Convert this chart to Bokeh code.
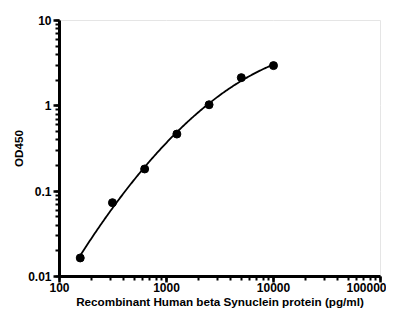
import numpy as np
from bokeh.plotting import figure
from bokeh.models import LogTicker, PrintfTickFormatter, Range1d
from bokeh.embed import file_html
from bokeh.resources import INLINE

# data
conc = [156.25, 312.5, 625, 1250, 2500, 5000, 10000]
od = [0.0165, 0.0733, 0.182, 0.467, 1.03, 2.14, 2.96]
x_ticks = [100, 1000, 10000, 100000]
y_ticks = [0.01, 0.1, 1, 10]

# smooth fitted curve through data (quadratic in log-log)
lx = np.log10(conc)
ly = np.log10(od)
coef = np.polyfit(lx, ly, 2)
xs = np.linspace(lx[0], lx[-1], 200)
curve_x = 10 ** xs
curve_y = 10 ** np.polyval(coef, xs)

p = figure(width=386, height=310, x_axis_type="log", y_axis_type="log",
           x_range=Range1d(x_ticks[0], x_ticks[-1]),
           y_range=Range1d(y_ticks[0], y_ticks[-1]),
           output_backend="svg", toolbar_location=None,
           min_border_left=59, min_border_right=6, min_border_top=20,
           min_border_bottom=34)
p.xgrid.grid_line_color = "white"
p.ygrid.grid_line_color = "white"

p.line(curve_x, curve_y, line_color="black", line_width=1.8)
p.scatter(conc, od, size=8, color="black")

p.xaxis.ticker = LogTicker(desired_num_ticks=len(x_ticks), num_minor_ticks=10)
p.yaxis.ticker = LogTicker(desired_num_ticks=len(y_ticks), num_minor_ticks=10)
p.xaxis.formatter = PrintfTickFormatter(format="%g")
p.yaxis.formatter = PrintfTickFormatter(format="%g")
p.axis.axis_line_width = 3
p.axis.major_tick_line_width = 2.5
p.axis.minor_tick_line_width = 2
p.axis.minor_tick_line_color = "black"
p.axis.major_tick_out = 6
p.axis.major_tick_in = 0
p.axis.minor_tick_out = 4
p.axis.minor_tick_in = 0
p.axis.major_label_text_font = "Liberation Sans"
p.axis.major_label_text_font_style = "bold"
p.axis.major_label_text_font_size = "12px"
p.axis.major_label_text_color = "black"
p.axis.axis_label_text_font = "Liberation Sans"
p.axis.axis_label_text_font_style = "bold"
p.axis.axis_label_text_font_size = "11.7px"
p.axis.axis_label_text_color = "black"

p.xaxis.axis_label = "Recombinant Human beta Synuclein protein (pg/ml)"
p.yaxis.axis_label = "OD450"
p.xaxis.major_label_standoff = 0
p.xaxis.axis_label_standoff = 0
p.yaxis.major_label_standoff = 2
p.yaxis.axis_label_standoff = 0

open("out.html", "w").write(file_html(p, INLINE))
